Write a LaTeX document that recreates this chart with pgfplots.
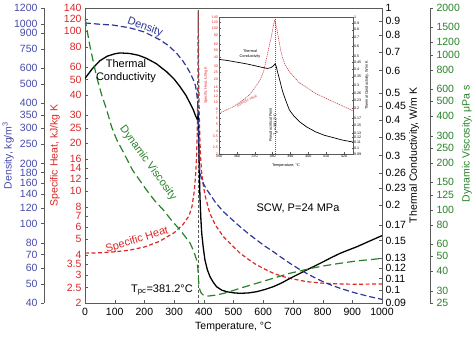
\documentclass[border=0pt]{standalone}
\usepackage{pgfplots}
\pgfplotsset{compat=1.18}
\usepackage{fontspec}
\setmainfont{Liberation Sans}
\definecolor{dblue}{RGB}{45,55,150}
\definecolor{tblue}{RGB}{70,75,170}
\definecolor{sred}{RGB}{220,40,40}
\definecolor{vgreen}{RGB}{40,130,40}
\definecolor{ired}{RGB}{205,70,80}
\definecolor{axgray}{RGB}{90,90,90}
\pgfplotsset{
  mainax/.style={width=297pt,height=295pt,scale only axis,at={(0,0)},anchor=south west,
    xmin=0,xmax=1000,
    /pgf/number format/assume math mode=true,
    /pgf/number format/1000 sep={},
    tick label style={font=\fontsize{10.5}{12}\selectfont},
    label style={font=\fontsize{10.5}{12}\selectfont},
    axis line style={axgray},
    major tick length=3pt,
    tick style={axgray},
  },
  insetax/.style={width=134pt,height=137pt,scale only axis,at={(134pt,149pt)},anchor=south west,
    xmin=350,xmax=425,
    /pgf/number format/assume math mode=true,
    tick label style={font=\fontsize{3.6}{4}\selectfont, inner sep=1pt},
    label style={font=\fontsize{3.8}{4.2}\selectfont},
    axis line style={axgray, line width=0.3pt},
    major tick length=1.5pt,
    tick style={axgray, line width=0.3pt},
  },
}
\begin{document}
\begin{tikzpicture}[x=1pt,y=1pt]
% ---------- specific heat (main box) ----------
\begin{axis}[mainax, ymode=log, ymin=2, ymax=140, xtick={0,100,...,1000}, xtick pos=bottom, ytick pos=left,
  xticklabel style={yshift=-2pt},
  ytick={2,2.5,3,3.5,4,5,6,7,8,10,12,14,16,20,25,30,40,50,60,80,100,120,140},
  yticklabels={2,2.5,3,3.5,4,5,6,7,8,10,12,14,16,20,25,30,40,50,60,80,100,120,140},
  yticklabel style={text=sred},
  xlabel={Temperature, °C}, xlabel style={at={(axis description cs:0.5,-0.08)},anchor=center},
  ylabel={Specific Heat, kJ/kg K}, ylabel style={text=sred, at={(axis description cs:-0.101,0.5)}, anchor=center}]
\addplot[sred, line width=1.2pt, dash pattern=on 4pt off 2.5pt] coordinates {
(0,4.1)(50,4.12)(100,4.18)(150,4.28)(200,4.48)(250,4.85)(300,5.5)(330,6.2)(350,7.0)(360,8.0)(368,10)(373,13)(376,17)(378,24)(379.5,38)(380.5,70)(381.2,135)(382,80)(383,50)(384.5,32)(386.5,22)(389,16.5)(393,13)(398,11)(405,9.3)(420,7.3)(440,6.1)(466,5.2)(500,4.5)(522,4.1)(550,3.75)(578,3.46)(606,3.25)(634,3.07)(660,2.95)(690,2.85)(746,2.72)(802,2.66)(858,2.63)(915,2.62)(1000,2.63)};
\addplot[axgray, line width=0.5pt, dash pattern=on 3pt off 2pt] coordinates {(381.2,2) (381.2,140)};
\end{axis}
% ---------- thermal conductivity ----------
\begin{axis}[mainax, ymode=log, ymin=0.09, ymax=1, hide x axis, axis y line*=right,
  ytick={0.09,0.1,0.11,0.12,0.13,0.15,0.17,0.2,0.23,0.26,0.3,0.35,0.4,0.45,0.5,0.6,0.7,0.8,0.9,1},
  yticklabels={0.09,0.1,0.11,0.12,0.13,0.15,0.17,0.2,0.23,0.26,0.3,0.35,0.4,0.45,0.5,0.6,0.7,0.8,0.9,1},
  ylabel={Thermal Conductivity, W/m K}, ylabel style={at={(axis description cs:1.108,0.5)}, anchor=center}]
\addplot[black, line width=1.3pt] coordinates {
(0,0.563)(25,0.61)(50,0.65)(75,0.675)(100,0.688)(118,0.693)(150,0.69)(180,0.68)(207,0.663)(240,0.635)(275,0.594)(300,0.56)(320,0.526)(340,0.49)(354,0.459)(365,0.435)(372,0.415)(377,0.405)(380,0.41)(381.5,0.415)(382.5,0.37)(383.5,0.32)(385,0.265)(387,0.215)(390,0.18)(393,0.159)(398,0.142)(404,0.1276)(412,0.118)(421,0.1115)(432,0.1065)(443,0.1028)(460,0.1)(477,0.0987)(500,0.0978)(522,0.0974)(550,0.0977)(578,0.0987)(606,0.1005)(634,0.1028)(662,0.106)(690,0.110)(718,0.1138)(746,0.1178)(774,0.1218)(802,0.126)(830,0.1305)(859,0.135)(887,0.1387)(915,0.1424)(960,0.1495)(1000,0.156)};
\end{axis}
% ---------- density ----------
\begin{axis}[mainax, ymode=log, ymin=40, ymax=1200, hide x axis, axis y line*=left, axis y line shift=41pt, tick align=outside,
  ytick={40,50,60,70,80,100,120,140,160,180,200,250,300,350,400,500,600,750,900,1000,1200},
  yticklabels={40,50,60,70,80,100,120,140,160,180,200,250,300,350,400,500,600,750,900,1000,1200},
  yticklabel style={text=tblue},
  ylabel={Density, kg/m\textsuperscript{3}}, ylabel style={text=tblue, at={(axis description cs:-0.259,0.5)}, anchor=center}]
\addplot[dblue, line width=1.2pt, dash pattern=on 6pt off 3pt] coordinates {
(0,1010)(50,995)(95,985)(150,955)(200,910)(253,830)(280,780)(309,711)(330,650)(342,610)(355,565)(365,523)(372,490)(376,450)(379,410)(380.5,370)(381.2,330)(382,280)(383,240)(385,205)(387,180)(392,168)(400,157)(410,148)(421,140)(440,127)(466,114.7)(494,105)(522,96.4)(550,89)(578,82.7)(606,77)(634,72.3)(662,67.5)(690,63.2)(718,59.5)(746,56.3)(774,53.5)(802,51.1)(830,49.1)(859,47.4)(887,46)(915,44.7)(960,43)(1000,41.7)};
\end{axis}
% ---------- viscosity ----------
\begin{axis}[mainax, ymode=log, ymin=25, ymax=2000, hide x axis, axis y line*=right, axis y line shift=48pt, tick align=outside,
  ytick={25,30,40,50,60,80,100,125,150,200,250,300,400,500,600,800,1000,1200,1500,2000},
  yticklabels={25,30,40,50,60,80,100,125,150,200,250,300,400,500,600,800,1000,1200,1500,2000},
  yticklabel style={text=vgreen},
  ylabel={Dynamic Viscosity, μPa s}, ylabel style={text=vgreen, at={(axis description cs:1.286,0.54)}, anchor=center}]
\addplot[vgreen, line width=1.2pt, dash pattern=on 8pt off 4pt] coordinates {
(0,1720)(8,1400)(17,1126)(28,900)(39,721)(55,560)(73,440)(90,340)(107,282)(129,235)(160,180)(207,134)(235,114)(264,99.5)(292,85)(320,74)(340,66)(354,60.7)(366,54)(376,47.3)(380,42)(382,36)(384,32)(387,30.3)(392,28.8)(398,28.2)(410,27.7)(421,27.8)(440,28.1)(466,28.8)(494,29.9)(522,31.1)(550,32.3)(578,33.5)(606,34.8)(634,36.1)(662,37.5)(690,38.9)(718,40)(746,41.2)(774,42.3)(802,43.3)(830,44.2)(859,45.1)(887,45.9)(915,46.7)(960,47.6)(1000,48.5)};
\end{axis}
% ---------- annotations main ----------
\node[text=dblue, font=\fontsize{11}{12}\selectfont, rotate=-20] at (60,276) {Density};
\node[align=center, font=\fontsize{11}{13}\selectfont] at (41,232) {Thermal\\Conductivity};
\node[text=vgreen, font=\fontsize{11}{12}\selectfont, rotate=-54] at (63,140) {Dynamic Viscosity};
\node[text=sred, font=\fontsize{11}{12}\selectfont, rotate=17] at (52,63) {Specific Heat};
\node[font=\fontsize{11}{12}\selectfont] at (213,95) {SCW, P=24 MPa};
\node[font=\fontsize{11}{12}\selectfont] at (77,13) {T\textsubscript{pc}=381.2°C};
% ---------- inset ----------
\fill[white] (118,133) rectangle (285,293);
\begin{axis}[insetax, ymode=log, ymin=2, ymax=140, xtick={350,360,...,420}, xtick pos=bottom, ytick pos=left,
  ytick={2,2.5,3,3.5,4,5,6,7,8,10,12,14,16,20,25,30,40,50,60,80,100,120,140},
  yticklabels={2,2.5,3,3.5,4,5,6,7,8,10,12,14,16,20,25,30,40,50,60,80,100,120,140},
  yticklabel style={text=sred},
  xlabel={Temperature, °C}, xlabel style={at={(axis description cs:0.5,-0.088)},anchor=center},
  ylabel={Specific Heat, kJ/kg K}, ylabel style={text=sred, at={(axis description cs:-0.097,0.5)}, anchor=center}]
\addplot[ired, line width=0.6pt, dash pattern=on 1.2pt off 0.8pt] coordinates {
(350,7.07)(354,7.8)(358,8.67)(362,10)(367,12.5)(370,15.5)(373,19.9)(375,26)(376,33.3)(377,43)(378,55.7)(379,70)(380,93.5)(380.7,115)(381.2,127.6)(381.8,110)(382.5,93.5)(383.5,68)(384.5,50.3)(385.5,40)(387,31.7)(389,26.5)(391,23.2)(393,20.5)(395,18.2)(400,15.2)(404,13.1)(409,11.5)(414,10.1)(419,8.9)(424,7.83)(425,7.6)};
\addplot[axgray, line width=0.4pt, dash pattern=on 1pt off 1pt] coordinates {(381.2,2) (381.2,140)};
\end{axis}
\begin{axis}[insetax, ymode=log, ymin=0.09, ymax=1, hide x axis, axis y line*=right,
  ytick={0.09,0.1,0.11,0.12,0.13,0.15,0.17,0.2,0.23,0.26,0.3,0.35,0.4,0.45,0.5,0.6,0.7,0.8,0.9,1},
  yticklabels={0.09,0.1,0.11,0.12,0.13,0.15,0.17,0.2,0.23,0.26,0.3,0.35,0.4,0.45,0.5,0.6,0.7,0.8,0.9,1},
  ylabel={Thermal Conductivity, W/m K}, ylabel style={at={(axis description cs:1.104,0.5)}, anchor=center}]
\addplot[black, line width=0.7pt] coordinates {
(350,0.475)(355,0.465)(360,0.452)(365,0.44)(370,0.425)(374,0.413)(377,0.405)(379,0.41)(380.5,0.425)(381.4,0.44)(382,0.42)(383,0.37)(384,0.33)(385,0.29)(386,0.26)(387.5,0.228)(389.4,0.195)(392,0.175)(395,0.159)(399,0.145)(404,0.133)(409,0.125)(414,0.12)(419,0.115)(425,0.111)};
\end{axis}
\node[align=center, font=\fontsize{3.8}{4.4}\selectfont] at (165,249) {Thermal\\Conductivity};
\node[text=ired, font=\fontsize{3.8}{4.4}\selectfont, rotate=28] at (162,202) {Specific Heat};
\node[align=center, font=\fontsize{3.8}{4.4}\selectfont, rotate=90] at (188.5,178) {Pseudocritical Point\\T\textsubscript{pc}=381.2°C};
\pgfresetboundingbox
\path[use as bounding box] (-85,-34) rectangle (389,303);
\end{tikzpicture}
\end{document}
